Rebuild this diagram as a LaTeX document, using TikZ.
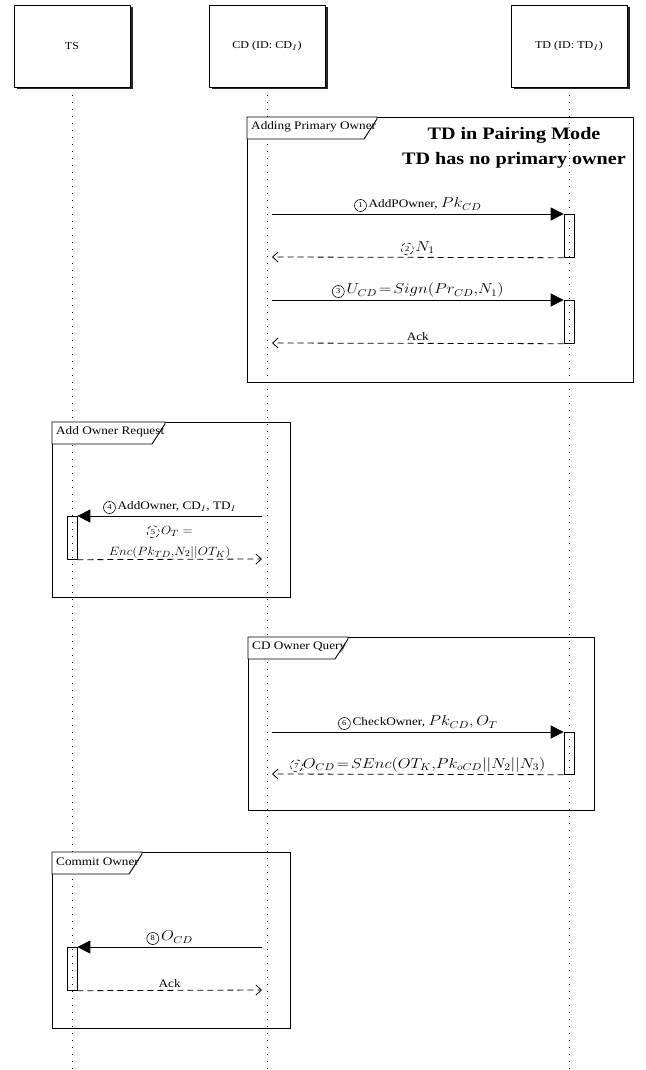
\documentclass[tikz,border=0pt]{standalone}
\usepackage{fontspec}
\usepackage{graphicx}
\setmainfont[FakeStretch=1.15]{Liberation Serif}
\usetikzlibrary{arrows.meta,shadows}
\newcommand{\mm}[1]{\scalebox{1.15}[1]{\fontsize{14}{15}\selectfont$#1$}}
\newcommand{\ms}[1]{\scalebox{1.1}[1]{\fontsize{12.5}{13}\selectfont$#1$}}
\newcommand{\sm}[1]{\scalebox{1.15}[1]{\fontsize{12}{12}\selectfont$#1$}}
\newcommand{\cnum}[1]{\tikz[baseline=(c.base)]\node[circle,draw,line width=0.6pt,inner sep=1pt,minimum size=12pt,font=\fontsize{7.5}{7.5}\selectfont](c){#1};}
\newcommand{\dnum}[1]{\tikz[baseline=(c.base)]\node[circle,draw,dash pattern=on 3.5pt off 3pt,dash phase=1pt,line width=0.6pt,inner sep=1pt,minimum size=12pt,font=\fontsize{7.5}{7.5}\selectfont](c){#1};}
\begin{document}
\begin{tikzpicture}[x=1pt,y=-1pt,
  actor/.style={draw,line width=0.8pt,fill=white,minimum width=116pt,minimum height=82pt,
    font=\fontsize{10.5}{11}\selectfont,
    drop shadow={shadow xshift=2.5pt,shadow yshift=-2.5pt,fill=black!85,opacity=1}},
  life/.style={line width=0.6pt,dash pattern=on 0.8pt off 6.2pt},
  frame/.style={draw,line width=0.9pt},
  flabel/.style={font=\fontsize{11.5}{12}\selectfont,anchor=west,inner sep=0pt},
  act/.style={draw,line width=0.7pt,minimum width=10pt,inner sep=0pt},
  call/.style={line width=0.8pt,-{Triangle[length=13pt,width=13pt]}},
  ret/.style={line width=0.8pt,dash pattern=on 6pt off 4pt,-{Straight Barb[length=5.5pt,width=10pt,line width=0.8pt]}},
  lbl/.style={font=\fontsize{11.5}{12}\selectfont,inner sep=2pt}
]
\useasboundingbox (0,0) rectangle (645,1070);

% lifelines
\coordinate (tsT) at (72,88);  \coordinate (tsB) at (72,1070);
\coordinate (cdT) at (267,88); \coordinate (cdB) at (267,1070);
\coordinate (tdT) at (569,88); \coordinate (tdB) at (569,1070);
\draw[life] (tsT) -- (tsB);
\draw[life] (cdT) -- (cdB);
\draw[life] (tdT) -- (tdB);

% actors
\node[actor] (ts) at (72,46) {TS};
\node[actor] (cd) at (267,46) {CD (ID: CD\sm{_{I}})};
\node[actor] (td) at (569,46) {TD (ID: TD\sm{_{I}})};

% frame macro
\newcommand{\umlframe}[6]{%
  \draw[frame] (#1,#2) rectangle (#3,#4);
  \draw[frame,fill=white] (#1,#2) -- (#5,#2) -- (#5,#2+2) -- (#5-13,#2+22) -- (#1,#2+22) -- cycle;
  \node[flabel] at (#1+4,#2+10) {#6};
}

% Frame 1
\umlframe{247}{117}{633}{382}{377}{Adding Primary Owner}
\node[font=\fontsize{17.5}{25}\selectfont\bfseries,align=center] (title) at (514,148) {TD in Pairing Mode\\TD has no primary owner};

\node[act,minimum height=43pt,anchor=north] (a1) at (569,214) {};
\node[act,minimum height=43pt,anchor=north] (a2) at (569,300) {};
\coordinate (m1s) at (272,214);
\coordinate (m2e) at (272,257);
\coordinate (m3s) at (272,300);
\coordinate (m4e) at (272,343);
\draw[call] (m1s) -- node[above,lbl] {\cnum{1}\,AddPOwner, \mm{Pk_{CD}}} (a1.north west);
\draw[ret] (a1.south west) -- node[above,lbl] {\dnum{2}\,\mm{N_1}} (m2e);
\draw[call] (m3s) -- node[above,lbl] {\cnum{3}\,\mm{U_{CD}\!=\!Sign(Pr_{CD},\!N_1)}} (a2.north west);
\draw[ret] (a2.south west) -- node[above,lbl] {Ack} (m4e);

% Frame 2
\umlframe{52}{422}{290}{597}{165}{Add Owner Request}
\node[act,minimum height=43pt,anchor=north] (b1) at (72,516) {};
\coordinate (m5s) at (262,516);
\coordinate (m6e) at (262,559);
\draw[call] (m5s) -- node[above,lbl] {\cnum{4}\,AddOwner, CD\sm{_I}, TD\sm{_I}} (b1.north east);
\draw[ret] (b1.south east) -- node[above,lbl,align=center,font=\fontsize{10}{21}\selectfont,inner sep=1pt] {\dnum{5}\,\ms{O_T=}\\\ms{Enc(Pk_{TD},\!N_2||OT_K)}} (m6e);

% Frame 3
\umlframe{248}{637}{594}{810}{348}{CD Owner Query}
\node[act,minimum height=42pt,anchor=north] (c1) at (569,732) {};
\coordinate (m7s) at (272,732);
\coordinate (m8e) at (272,774);
\draw[call] (m7s) -- node[above,lbl] {\cnum{6}\,CheckOwner, \mm{Pk_{CD}, O_T}} (c1.north west);
\draw[ret] (c1.south west) -- node[above,lbl] {\dnum{7}\mm{O_{CD}\!=\!SEnc(OT_K,\!Pk_{oCD}||N_2||N_3)}} (m8e);

% Frame 4
\umlframe{52}{852}{290}{1028}{142}{Commit Owner}
\node[act,minimum height=43pt,anchor=north] (d1) at (72,947) {};
\coordinate (m9s) at (262,947);
\coordinate (m10e) at (262,990);
\draw[call] (m9s) -- node[above,lbl] {\cnum{8}\,\mm{O_{CD}}} (d1.north east);
\draw[ret] (d1.south east) -- node[above,lbl] {Ack} (m10e);
\end{tikzpicture}
\end{document}
